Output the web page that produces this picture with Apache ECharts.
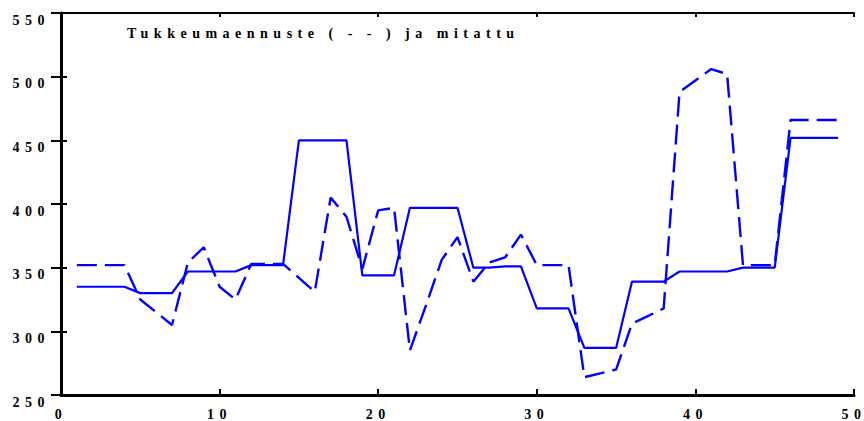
<!DOCTYPE html>
<html>
<head>
<meta charset="utf-8">
<script src="https://cdn.jsdelivr.net/npm/echarts@6/dist/echarts.min.js"></script>
<style>
  html, body { margin: 0; padding: 0; background: #fff; }
  #chart { width: 864px; height: 421px; }
  #chart text { letter-spacing: 5.5px; }
</style>
</head>
<body>
<div id="chart"></div>
<script>
// x positions (time steps)
const steps = [1,2,3,4,5,6,7,8,9,10,11,12,13,14,15,16,17,18,19,20,21,22,23,24,25,26,27,28,29,30,31,32,33,34,35,36,37,38,39,40,41,42,43,44,45,46,47,48,49];
// measured (solid line)
const measured = [335,335,335,335,330,330,330,347,347,347,347,352,352,352,450,450,450,450,344,344,344,397,397,397,397,350,350,351,351,318,318,318,287,287,287,339,339,339,347,347,347,347,350,350,350,452,452,452,452];
// forecast (dashed line)
const forecast = [352,352,352,352,325,315,305,354,366,335,325,353,353,353,342,331,405,390,349,395,397,285,320,356,374,339,354,358,376,352,352,352,264,267,270,306,312,318,488,497,506,502,352,352,352,466,466,466,466];
// axis settings
const xTicks = [0,10,20,30,40,50];
const yTicks = [250,300,350,400,450,500,550];
const titleText = 'Tukkeumaennuste ( - - ) ja mitattu';

const font = "'Liberation Serif', 'Times New Roman', serif";
const chart = echarts.init(document.getElementById('chart'), null, { renderer: 'svg' });

const lbl = { color: '#000', fontFamily: font, fontWeight: 'bold', fontSize: 14 };

chart.setOption({
  animation: false,
  backgroundColor: '#fff',
  title: {
    text: titleText,
    left: 127, top: 26, padding: 0,
    textStyle: { color: '#000', fontFamily: font, fontWeight: 'bold', fontSize: 14 }
  },
  grid: { left: 61, right: 9, top: 13, bottom: 26 },
  xAxis: [
    {
      type: 'value', position: 'bottom',
      min: xTicks[0], max: xTicks[xTicks.length - 1], interval: 10,
      axisLine: { show: true, lineStyle: { color: '#000', width: 3 } },
      axisTick: { show: true, inside: true, length: 6, lineStyle: { color: '#000', width: 2 } },
      splitLine: { show: false },
      axisLabel: Object.assign({ margin: 12 }, lbl)
    },
    {
      type: 'value', position: 'top',
      min: xTicks[0], max: xTicks[xTicks.length - 1], interval: 10,
      axisLine: { show: true, lineStyle: { color: '#000', width: 2 } },
      axisTick: { show: true, inside: true, length: 4, lineStyle: { color: '#000', width: 2 } },
      splitLine: { show: false },
      axisLabel: { show: false }
    }
  ],
  yAxis: [
    {
      type: 'value', position: 'left',
      min: yTicks[0], max: yTicks[yTicks.length - 1], interval: 50,
      axisLine: { show: true, lineStyle: { color: '#000', width: 3 } },
      axisTick: { show: true, inside: true, length: 6, lineStyle: { color: '#000', width: 2 } },
      splitLine: { show: false },
      axisLabel: Object.assign({ margin: 11, verticalAlign: 'top' }, lbl)
    },
    {
      type: 'value', position: 'right',
      min: yTicks[0], max: yTicks[yTicks.length - 1], interval: 50,
      axisLine: { show: true, lineStyle: { color: '#000', width: 2 } },
      axisTick: { show: true, inside: true, length: 10, lineStyle: { color: '#000', width: 2 } },
      splitLine: { show: false },
      axisLabel: { show: false }
    }
  ],
  series: [
    {
      name: 'mitattu', type: 'line', xAxisIndex: 0, yAxisIndex: 0,
      showSymbol: false, symbol: 'none',
      lineStyle: { color: '#0000ff', width: 2.2 },
      data: steps.map((s, i) => [s, measured[i]])
    },
    {
      name: 'ennuste', type: 'line', xAxisIndex: 0, yAxisIndex: 0,
      showSymbol: false, symbol: 'none',
      lineStyle: { color: '#0000ff', width: 2.4, type: [20, 8] },
      data: steps.map((s, i) => [s, forecast[i]])
    }
  ]
});
</script>
</body>
</html>
